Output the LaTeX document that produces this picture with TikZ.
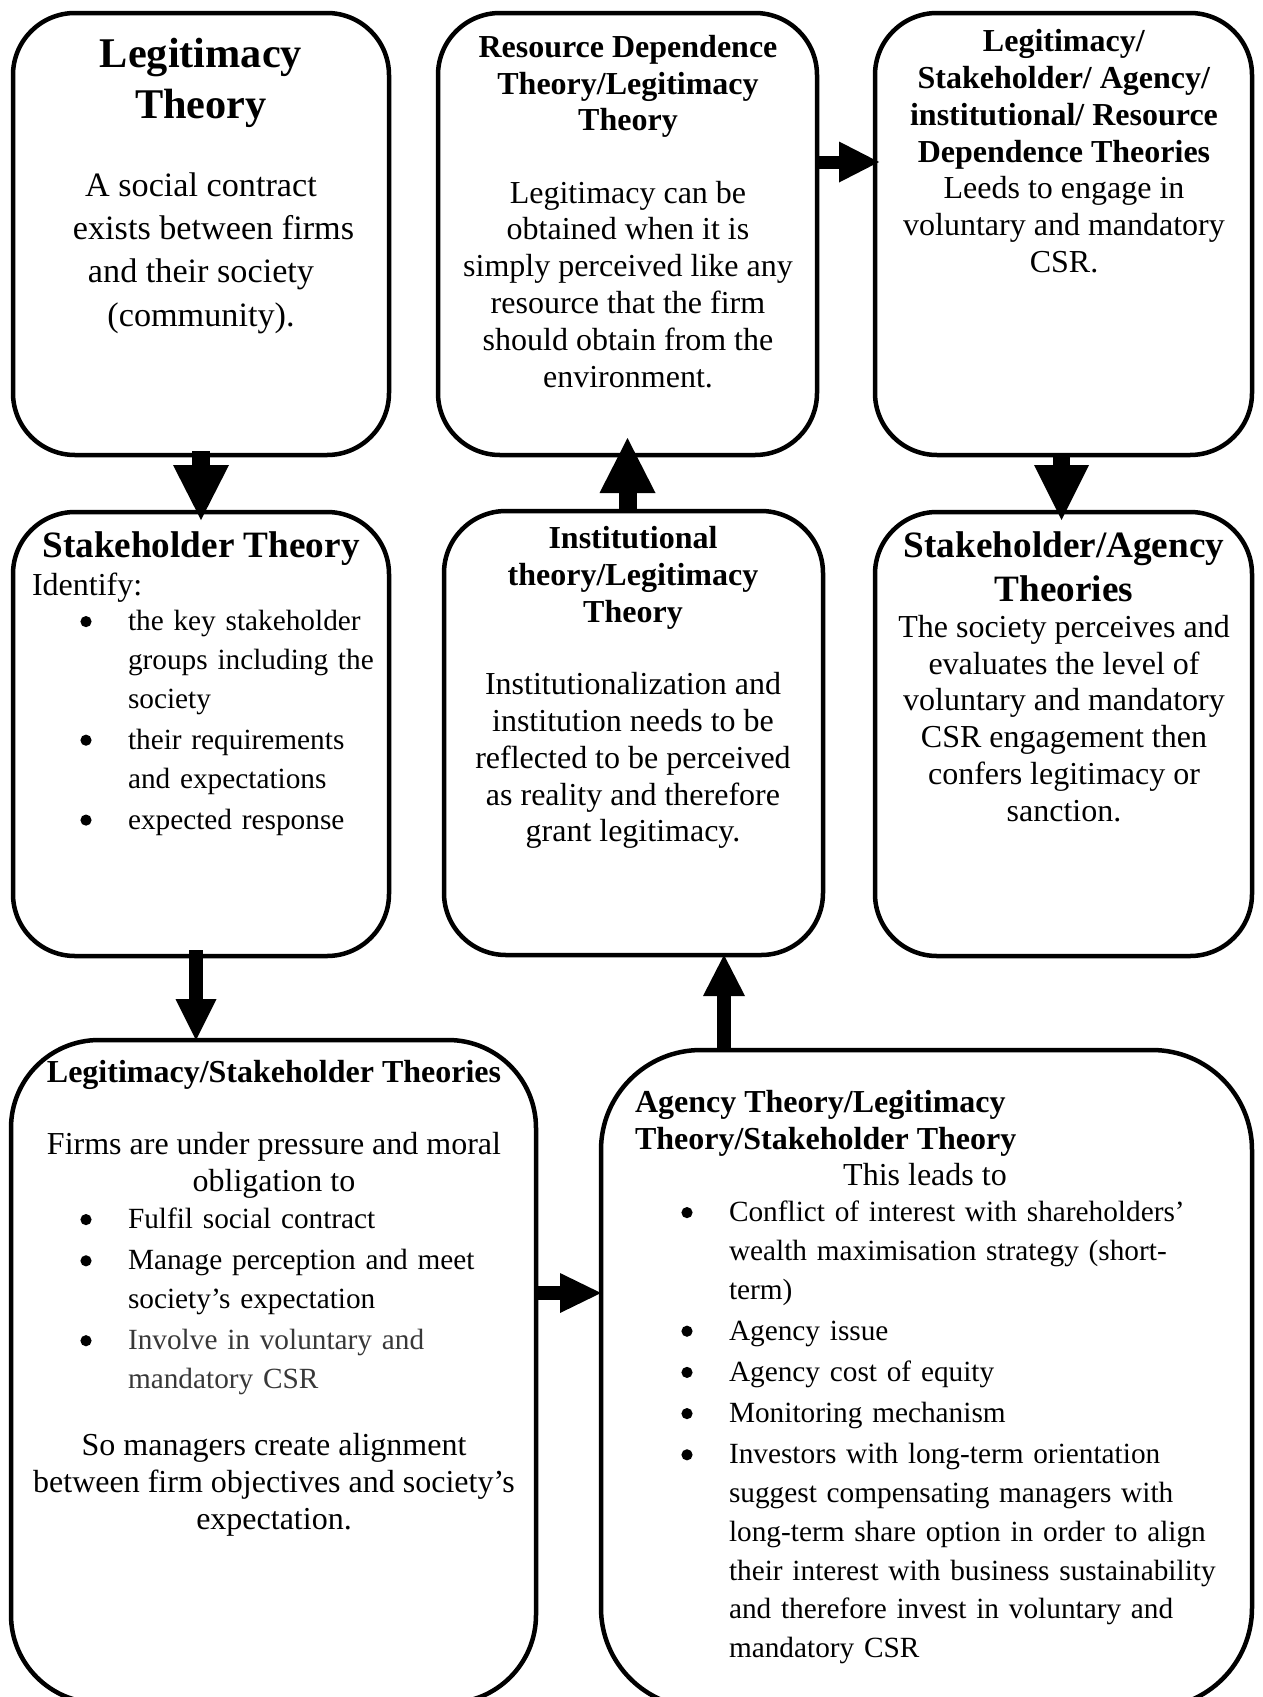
\documentclass[tikz,border=0pt]{standalone}
\usepackage{fontspec}
\setmainfont{Liberation Serif}
\usetikzlibrary{arrows.meta,calc}
\newcommand\fbody{\fontsize{32}{36.8}\selectfont}
\newcommand\fbig{\fontsize{34.2}{43.3}\selectfont}
\newcommand\ftitleA{\fontsize{42.3}{51}\selectfont\bfseries}
\newcommand\fhead{\fontsize{37.2}{44}\selectfont\bfseries}
\newcommand\fbul{\fontsize{29.3}{38.7}\selectfont}
\newcommand\bigdot{\makebox[0pt]{\raisebox{3.5pt}{\tikz[x=1pt,y=1pt]\fill (0,0) circle [radius=5.6pt];}}}
\newcommand\bitem[1]{\par\hangindent=60pt\hangafter=1\noindent\hspace*{18pt}\bigdot\hspace*{42pt}#1\par}
\begin{document}
\begin{tikzpicture}[x=1pt,y=-1pt,
 box/.style={draw, line width=4.5pt, rounded corners=62pt, inner sep=0pt, outer sep=0pt, anchor=north west},
 ctext/.style={inner sep=0pt, outer sep=0pt, anchor=north, align=center},
 ltext/.style={inner sep=0pt, outer sep=0pt, anchor=north west, align=left},
 blist/.style={inner sep=0pt, outer sep=0pt, anchor=north west, text width=#1, align=left},
 barrow/.style n args={3}{line width=#1, line cap=butt, -{Triangle[width=#2,length=#3,line width=0pt]}}]
\useasboundingbox (0,0) rectangle (1262,1697);
\clip (0,0) rectangle (1262,1697);

% boxes
\node[box, minimum width=376pt, minimum height=442pt] (b1) at (13,13) {};
\node[box, minimum width=379pt, minimum height=442pt] (b2) at (438,13) {};
\node[box, minimum width=377pt, minimum height=442pt] (b3) at (875,13) {};
\node[box, minimum width=376pt, minimum height=444pt] (b4) at (13,512) {};
\node[box, minimum width=379pt, minimum height=444pt] (b5) at (444,511) {};
\node[box, minimum width=377pt, minimum height=444pt] (b6) at (875,512) {};
\node[box, rounded corners=88pt, minimum width=525pt, minimum height=663pt] (b7) at (11,1040) {};
\node[box, rounded corners=100pt, minimum width=651pt, minimum height=658pt] (b8) at (601,1050) {};

% box 1
\node[ctext, font=\ftitleA] (t1) at (201,38.5) {Legitimacy\\Theory};
\node[ctext, font=\fbig] (x1) at (201,172.5) {A social contract\\\hspace*{25pt}exists between firms\\and their society\\(community).};

% box 2
\node[ctext, font=\fbody\bfseries] (t2) at (628,35) {Resource Dependence\\Theory/Legitimacy\\Theory};
\node[ctext, font=\fbody] (x2) at (628,180.8) {Legitimacy can be\\obtained when it is\\simply perceived like any\\resource that the firm\\should obtain from the\\environment.};

% box 3
\node[ctext, font=\fbody] (t3) at (1064,29.5) {\textbf{Legitimacy/}\\\textbf{Stakeholder/ Agency/}\\\textbf{institutional/ Resource}\\\textbf{Dependence Theories}\\Leeds to engage in\\voluntary and mandatory\\CSR.};

% box 4
\node[ctext, font=\fhead] (t4) at (201,532) {Stakeholder Theory};
\node[ltext, font=\fbody] (i4) at (32,573) {Identify:};
\node[blist=320pt, font=\fbul] (l4) at (68,589.5) {\setlength\parskip{2.5pt}%
\bitem{the key stakeholder\newline groups including the\newline society}%
\bitem{their requirements\newline and expectations}%
\bitem{expected response}};

% box 5
\node[ctext, font=\fbody\bfseries] (t5) at (633,526.5) {Institutional\\theory/Legitimacy\\Theory};
\node[ctext, font=\fbody] (x5) at (633,672.5) {Institutionalization and\\institution needs to be\\reflected to be perceived\\as reality and therefore\\grant legitimacy.};

% box 6
\node[ctext, font=\fhead] (t6) at (1064,532) {Stakeholder/Agency\\Theories};
\node[ctext, font=\fbody] (x6) at (1064,615) {The society perceives and\\evaluates the level of\\voluntary and mandatory\\CSR engagement then\\confers legitimacy or\\sanction.};

% box 7
\node[ctext, font=\fbody\bfseries] (t7) at (274,1060) {Legitimacy/Stakeholder Theories};
\node[ctext, font=\fbody] (x7) at (274,1132.5) {Firms are under pressure and moral\\obligation to};
\node[blist=440pt, font=\fbul] (l7) at (68,1187.5) {\setlength\parskip{2.5pt}%
\bitem{Fulfil social contract}%
\bitem{Manage perception and meet\newline society’s expectation}%
\bitem{\color{black!78}Involve in voluntary and\newline mandatory CSR}};
\node[ctext, font=\fbody] (y7) at (274,1433.5) {So managers create alignment\\between firm objectives and society’s\\expectation.};

% box 8
\node[ltext, font=\fbody\bfseries] (t8) at (635,1090.5) {Agency Theory/Legitimacy\\Theory/Stakeholder Theory};
\node[ctext, font=\fbody] (x8) at (925,1163.5) {This leads to};
\node[blist=570pt, font=\fbul] (l8) at (669,1180.5) {\setlength\parskip{2.5pt}%
\bitem{Conflict of interest with shareholders’\newline wealth maximisation strategy (short-\newline term)}%
\bitem{Agency issue}%
\bitem{Agency cost of equity}%
\bitem{Monitoring mechanism}%
\bitem{Investors with long-term orientation\newline suggest compensating managers with\newline long-term share option in order to align\newline their interest with business sustainability\newline and therefore invest in voluntary and\newline mandatory CSR}};

% arrows
\coordinate (a6) at (724,0);
\coordinate (a7) at (0,1293);
\coordinate (a5s) at ([xshift=-5pt,yshift=6pt]b4.south);
\draw[barrow={18pt}{56pt}{55pt}] ([yshift=4pt]b1.south) -- ([yshift=-8pt]b4.north);
\draw[barrow={13pt}{41pt}{40pt}] ([xshift=-1pt]b2.east |- 0,162) -- ([xshift=4pt]b3.west |- 0,162);
\draw[barrow={18pt}{56pt}{55pt}] (b5.north -| b2.south) -- ([yshift=17pt]b2.south);
\draw[barrow={17pt}{55pt}{55pt}] ([xshift=-2pt,yshift=2pt]b3.south) -- ([xshift=-2pt,yshift=-8pt]b6.north);
\draw[barrow={14pt}{41pt}{41pt}] (a5s) -- (a5s |- b7.north);
\draw[barrow={14pt}{42pt}{41pt}] ([yshift=2pt]b8.north -| a6) -- (b5.south -| a6);
\draw[barrow={14pt}{40pt}{41pt}] ([xshift=-2pt]b7.east |- a7) -- (b8.west |- a7);
\end{tikzpicture}
\end{document}
